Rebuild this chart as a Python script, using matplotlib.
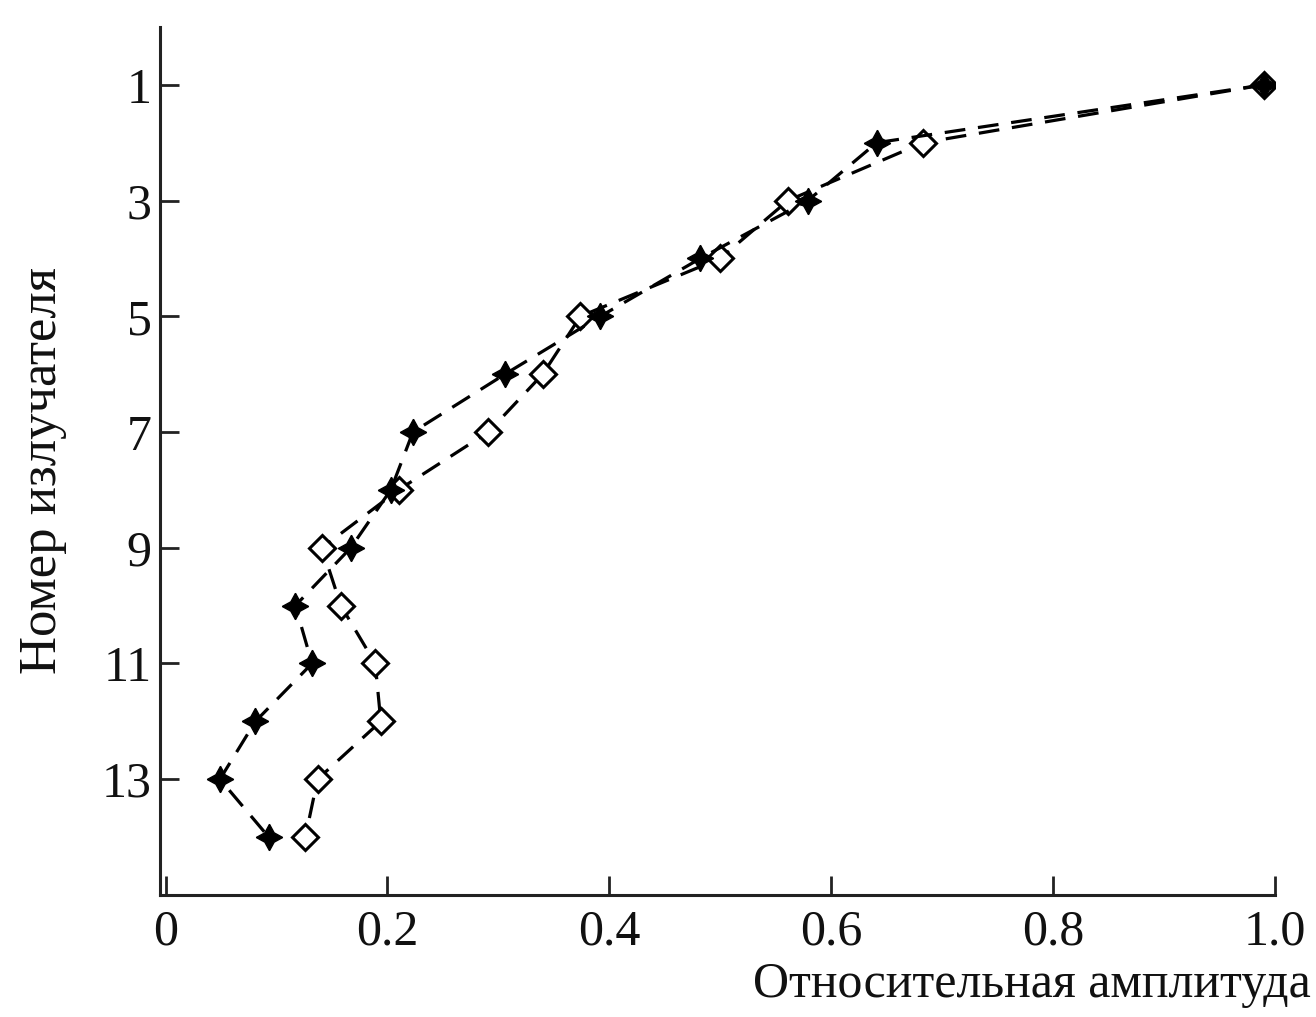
import matplotlib as mpl
mpl.use('agg')
import matplotlib.pyplot as plt

plt.rcParams['font.family'] = ['Liberation Serif', 'DejaVu Serif']

emitter = [1, 2, 3, 4, 5, 6, 7, 8, 9, 10, 11, 12, 13, 14]
amp_star = [0.99, 0.641, 0.579, 0.482, 0.392, 0.306, 0.223, 0.203, 0.167,
            0.117, 0.132, 0.081, 0.049, 0.093]
amp_diam = [0.99, 0.683, 0.561, 0.50, 0.374, 0.34, 0.291, 0.21, 0.141,
            0.158, 0.189, 0.194, 0.137, 0.126]
yticks = [1, 3, 5, 7, 9, 11, 13]
xticks = [0, 0.2, 0.4, 0.6, 0.8, 1.0]
xticklabels = ['0', '0.2', '0.4', '0.6', '0.8', '1.0']

fig = plt.figure(figsize=(13.16, 10.17), dpi=100)
ax = fig.add_axes([0.1216, 0.12, 0.8472, 0.8535])

ax.plot(amp_diam, emitter, color='k', linestyle='--', dashes=(6.5, 4), linewidth=2.3,
        marker='D', markersize=13, markerfacecolor='white', markeredgecolor='k',
        markeredgewidth=2.2, zorder=3)
ax.plot(amp_star, emitter, color='k', linestyle='--', dashes=(6.5, 4), linewidth=2.3,
        marker=(4, 1, 0), markersize=19, markerfacecolor='k', markeredgecolor='k',
        zorder=4)

ax.set_xlim(-0.005, 1.0)
ax.set_ylim(15, 0)
ax.set_yticks(yticks)
ax.set_xticks(xticks)
ax.set_xticklabels(xticklabels)

for s in ['top', 'right']:
    ax.spines[s].set_visible(False)
for s in ['left', 'bottom']:
    ax.spines[s].set_linewidth(2.2)
    ax.spines[s].set_color('#222222')

ax.tick_params(direction='in', length=14, width=2, labelsize=36, colors='#222222',
               labelcolor='#111111')
ax.tick_params(axis='x', pad=10)
ax.tick_params(axis='y', pad=6)

fig.text(0.033, 0.537, 'Номер излучателя', fontsize=38, color='#111111',
         rotation=90, ha='center', va='center')
fig.text(0.996, 0.032, 'Относительная амплитуда', fontsize=36, color='#111111',
         ha='right', va='center')

fig.savefig('out.png', dpi=100)
